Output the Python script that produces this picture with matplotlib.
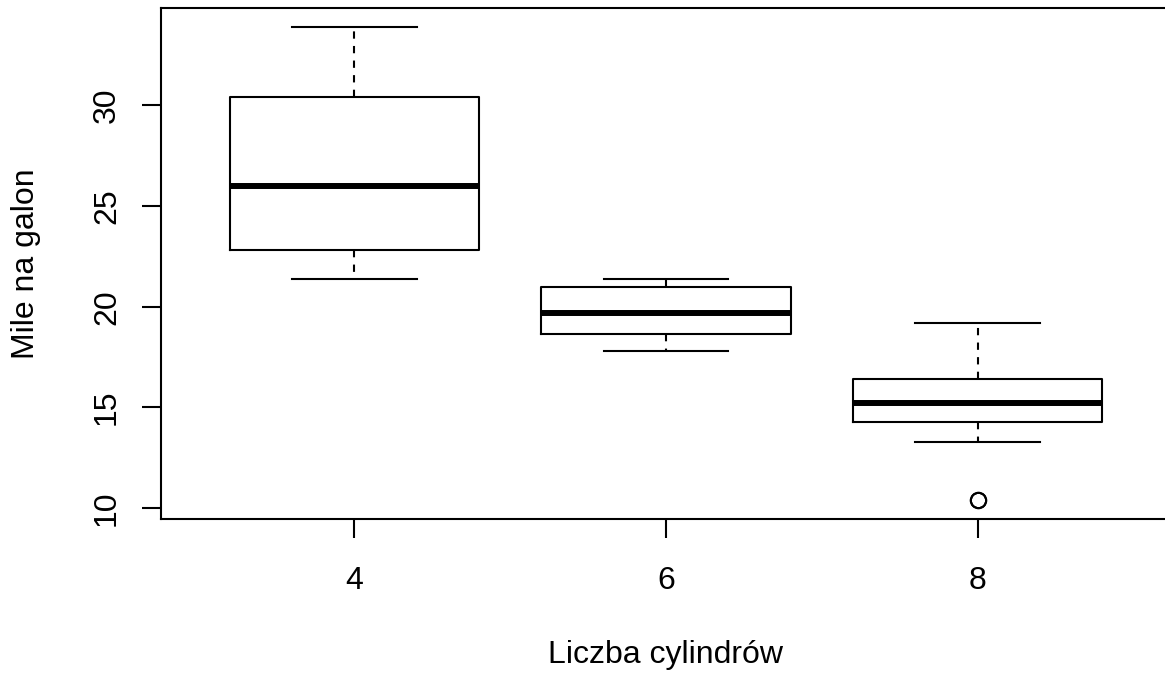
import matplotlib
matplotlib.use("Agg")
import matplotlib.pyplot as plt

plt.rcParams['font.family'] = ['Liberation Sans', 'DejaVu Sans']

# Data
groups = ['4', '6', '8']
medians = [26.0, 19.7, 15.2]
q1 = [22.8, 18.65, 14.3]
q3 = [30.4, 21.0, 16.4]
whislo = [21.4, 17.8, 13.3]
whishi = [33.9, 21.4, 19.2]
fliers = [[], [], [10.4, 10.4]]
yticks = [10, 15, 20, 25, 30]

stats = []
for i, g in enumerate(groups):
    stats.append(dict(label=g, med=medians[i], q1=q1[i], q3=q3[i],
                      whislo=whislo[i], whishi=whishi[i], fliers=fliers[i]))

fig = plt.figure(figsize=(11.65, 6.77), dpi=100)
W, H = 1165, 677
L, R, T, B = 161, 1171, 8, 519
ax = fig.add_axes([L / W, 1 - B / H, (R - L) / W, (B - T) / H])

lw = 1.5
fs = 23
ax.bxp(stats, positions=[1, 2, 3], widths=0.8, capwidths=0.4,
       boxprops=dict(color='black', linewidth=lw),
       medianprops=dict(color='black', linewidth=4.3, solid_capstyle='butt'),
       whiskerprops=dict(color='black', linewidth=lw, linestyle=(0, (3.5, 3.5))),
       capprops=dict(color='black', linewidth=lw),
       flierprops=dict(marker='o', markerfacecolor='none', markeredgecolor='black',
                       markersize=11, markeredgewidth=lw, linestyle='none'))

ax.set_xlim(0.38, 3.62)
ax.set_ylim(9.46, 34.84)
ax.set_xticks([1, 2, 3])
ax.set_xticklabels(groups)
ax.set_yticks(yticks)
ax.set_yticklabels([str(v) for v in yticks], rotation=90, va='center')

for s in ax.spines.values():
    s.set_linewidth(lw)
ax.tick_params(axis='both', direction='out', length=14, width=lw, labelsize=fs)
ax.tick_params(axis='x', pad=20)
ax.tick_params(axis='y', pad=14)

ax.set_xlabel('Liczba cylindrów', fontsize=fs)
ax.xaxis.set_label_coords(0.5, (B - 655) / (B - T))
ax.xaxis.label.set_va('center')
ax.set_ylabel('Mile na galon', fontsize=fs)
ax.yaxis.set_label_coords((26 - L) / (R - L), 0.5)
ax.yaxis.label.set_va('center')

fig.savefig('out.png', dpi=100)
